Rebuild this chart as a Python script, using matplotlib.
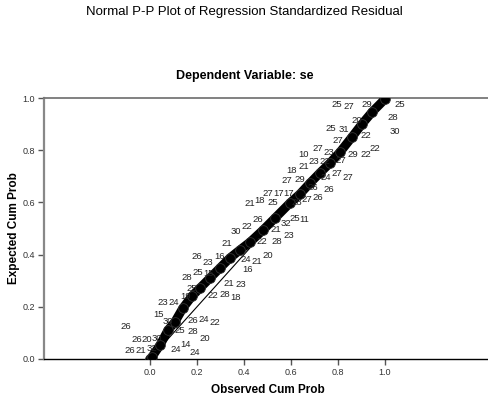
import matplotlib
matplotlib.use("Agg")
import matplotlib.pyplot as plt

plt.rcParams['font.family'] = ['Liberation Sans', 'DejaVu Sans']

# P-P curve (observed cum prob, expected cum prob)
observed = [0.0, 0.0085, 0.043, 0.077, 0.106, 0.140, 0.179, 0.213, 0.255, 0.298,
            0.340, 0.383, 0.426, 0.481, 0.532, 0.596, 0.638, 0.681, 0.723, 0.766,
            0.809, 0.860, 0.902, 0.945, 1.0]
expected = [0.0, 0.008, 0.054, 0.111, 0.142, 0.195, 0.241, 0.272, 0.310, 0.349,
            0.387, 0.418, 0.448, 0.494, 0.540, 0.598, 0.632, 0.674, 0.713, 0.751,
            0.793, 0.851, 0.900, 0.946, 0.996]

# case labels: text, x (observed), y (expected)
label_text = ["26", "26", "20", "30", "26", "21", "32", "15", "30", "23", "24", "19",
              "25", "28", "20", "24", "14", "24", "26", "24", "22", "25", "22", "28",
              "18", "28", "25", "15", "21", "23", "16", "26", "23", "16", "24", "21",
              "20", "21", "22", "28", "23", "30", "22", "21", "26", "32", "25", "11",
              "21", "18", "25", "28", "27", "26", "27", "17", "17", "27", "29", "26",
              "26", "24", "27", "27", "18", "21", "23", "22", "10", "27", "23", "29",
              "22", "22", "27", "27", "22", "30", "25", "31", "20", "28", "25", "27",
              "29", "25"]
label_x = [-0.102, -0.055, -0.013, 0.030, -0.085, -0.038, 0.009, 0.038, 0.077, 0.055,
           0.102, 0.153, 0.128, 0.183, 0.234, 0.111, 0.153, 0.191, 0.183, 0.230,
           0.277, 0.179, 0.268, 0.319, 0.366, 0.157, 0.204, 0.251, 0.336, 0.387,
           0.413, 0.200, 0.247, 0.294, 0.409, 0.455, 0.502, 0.328, 0.477, 0.540,
           0.591, 0.366, 0.413, 0.536, 0.460, 0.579, 0.617, 0.655, 0.426, 0.468,
           0.523, 0.626, 0.668, 0.715, 0.502, 0.549, 0.591, 0.583, 0.638, 0.694,
           0.762, 0.749, 0.796, 0.843, 0.604, 0.655, 0.698, 0.745, 0.655, 0.715,
           0.762, 0.864, 0.919, 0.957, 0.813, 0.800, 0.919, 1.043, 0.770, 0.826,
           0.881, 1.034, 0.796, 0.847, 0.923, 1.064]
label_y = [0.126, 0.073, 0.073, 0.077, 0.034, 0.034, 0.042, 0.169, 0.142, 0.218,
           0.218, 0.238, 0.111, 0.107, 0.080, 0.038, 0.054, 0.023, 0.149, 0.153,
           0.138, 0.271, 0.245, 0.249, 0.234, 0.314, 0.330, 0.326, 0.291, 0.287,
           0.341, 0.391, 0.368, 0.391, 0.383, 0.375, 0.398, 0.441, 0.452, 0.452,
           0.475, 0.490, 0.506, 0.498, 0.533, 0.521, 0.540, 0.533, 0.594, 0.609,
           0.598, 0.598, 0.613, 0.617, 0.636, 0.636, 0.636, 0.682, 0.686, 0.659,
           0.648, 0.697, 0.709, 0.697, 0.724, 0.739, 0.755, 0.755, 0.785, 0.805,
           0.793, 0.785, 0.785, 0.808, 0.759, 0.839, 0.858, 0.870, 0.885, 0.881,
           0.912, 0.927, 0.977, 0.966, 0.977, 0.977]

xticks = [0.0, 0.2, 0.4, 0.6, 0.8, 1.0]
yticks = [0.0, 0.2, 0.4, 0.6, 0.8, 1.0]

fig = plt.figure(figsize=(4.89, 4.04), dpi=100)
ax = fig.add_axes([44 / 489, 45 / 404, 445 / 489, 261 / 404])
ax.set_xlim(-0.451, 1.4426)
ax.set_ylim(0.0, 1.0)

# reference diagonal
ax.plot([0, 1], [0, 1], color='black', linewidth=0.8, zorder=2)
# thick P-P curve
ax.plot(observed, expected, color='black', linewidth=6.5, marker='o', markersize=7,
        markerfacecolor='black', markeredgecolor='#333333', markeredgewidth=0.6,
        solid_capstyle='round', zorder=3)

for t, x, y in zip(label_text, label_x, label_y):
    ax.text(x, y, t, fontsize=6.8, color='#222222', ha='center', va='center', zorder=4)

ax.set_xticks(xticks)
ax.set_xticklabels([f"{v:.1f}" for v in xticks])
ax.set_yticks(yticks)
ax.set_yticklabels([f"{v:.1f}" for v in yticks])
ax.tick_params(axis='both', labelsize=6.5, labelcolor='#333333', length=4,
               width=1, color='#555555', pad=2.5)

ax.spines['right'].set_visible(False)
ax.spines['left'].set_color('#888888')
ax.spines['left'].set_linewidth(1.6)
ax.spines['top'].set_color('#777777')
ax.spines['top'].set_linewidth(1.3)
ax.spines['bottom'].set_color('black')
ax.spines['bottom'].set_linewidth(1.0)

fig.text(0.5, 1 - 12 / 404, "Normal P-P Plot of Regression Standardized Residual",
         ha='center', va='center', fontsize=9.5)
fig.text(0.5, 1 - 76 / 404, "Dependent Variable: se",
         ha='center', va='center', fontsize=9, fontweight='bold')
fig.text(268 / 489, 1 - 390 / 404, "Observed Cum Prob",
         ha='center', va='center', fontsize=8.5, fontweight='bold')
fig.text(14 / 489, 1 - 228 / 404, "Expected Cum Prob", rotation=90,
         ha='center', va='center', fontsize=8.5, fontweight='bold')

fig.savefig("out.png", dpi=100)
